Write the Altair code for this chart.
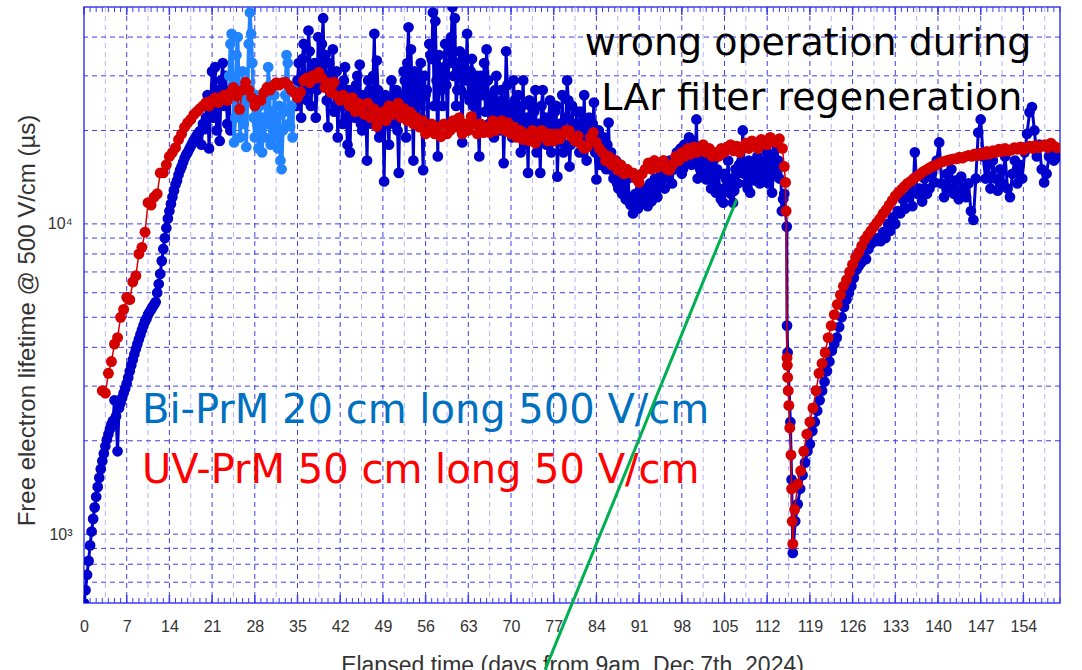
import altair as alt
import pandas as pd

# ---------------- axes / ticks ----------------
X_DOMAIN = [0, 160]
Y_DOMAIN = [600, 50000]
X_TICKS = [0, 7, 14, 21, 28, 35, 42, 49, 56, 63, 70, 77, 84, 91, 98, 105, 112,
           119, 126, 133, 140, 147, 154]
X_MINOR_GRID = [3.5, 10.5, 17.5, 24.5, 31.5, 38.5, 45.5, 52.5, 59.5, 66.5, 73.5,
                80.5, 87.5, 94.5, 101.5, 108.5, 115.5, 122.5, 129.5, 136.5, 143.5,
                150.5, 157.5]
Y_TICKS = [1000, 10000]
Y_TICK_LABELS = ["10³", "10⁴"]
Y_GRID = [700, 800, 900, 1000, 2000, 3000, 4000, 5000, 6000, 7000, 8000, 9000,
          10000, 20000, 30000, 40000]
EDGE_TICKS = list(range(0, 161))

# ---------------- data (lifetime in thousands of µs) ----------------
# Bi-PrM, dark blue, rising part: start day 0, every 0.25 day
BLUE_RISE_START, BLUE_RISE_STEP = 0.0, 0.25
BLUE_RISE_K = [0.60, 0.66, 0.74, 0.82, 0.92, 1.02, 1.12, 1.22, 1.32, 1.42, 1.52, 1.62,
               1.72, 1.82, 1.92, 2.02, 2.10, 2.18, 2.26, 2.32, 2.70, 2.40, 1.85, 2.55,
               2.65, 2.75, 2.85, 2.95, 3.06, 3.20, 3.35, 3.50, 3.65, 3.80, 3.95, 4.10,
               4.25, 4.40, 4.55, 4.70, 4.85, 4.95, 5.10, 5.20, 5.30, 5.40, 5.50, 5.60,
               6.00, 6.40, 6.90, 7.60, 8.30, 9.00, 9.70, 10.4, 11.0, 11.6, 12.2, 12.8,
               13.4, 13.8, 14.4, 14.9, 15.3, 15.8, 16.3, 16.7, 17.0, 17.4, 17.8, 18.2,
               18.6, 18.9, 19.3, 19.6, 19.9, 18.0, 21.0, 20.2, 22.0, 26.0, 17.5, 24.0,
               31.0, 22.0, 32.0, 20.0, 27.0, 18.5, 29.0, 33.0, 24.0, 30.0, 21.0, 27.0,
               20.0]
# Bi-PrM, light blue period: start day 23.8, every 0.2 day
LIGHT_START, LIGHT_STEP = 23.8, 0.2
LIGHT_K = [30, 38, 41, 28, 18.3, 22, 35, 40, 26, 19, 24, 31, 21, 27, 17.7, 25, 38, 48,
           41, 33, 22, 19, 26, 21, 17.5, 24, 20, 17, 22, 19, 25, 21, 32, 28, 18, 23, 20,
           26, 19, 22, 17.5, 24, 16, 15, 20, 23, 26, 35, 33, 21, 20.6, 24, 19, 27]
# Bi-PrM, dark blue, main period (outer scatter): start day 34.8, every 0.4 day
BLUE_MID_START, BLUE_MID_STEP = 34.8, 0.4
BLUE_MID_K = [24, 33, 22, 38, 27, 42, 24, 31, 22, 40,
              28, 46, 35, 20.5, 29, 36.5, 24, 19, 28, 21,
              32, 18, 17, 26, 22, 30, 32.6, 20, 24, 16,
              27, 21, 41, 33.6, 19, 25, 13.7, 22, 18, 29,
              21, 27, 14.6, 23, 31, 19, 43, 36.5, 16, 28,
              22, 33, 14.9, 26, 20, 35, 48, 45, 16.5, 30,
              24, 38, 21, 33, 50, 46, 27, 36, 18.3, 31,
              41, 25, 34, 22, 30, 16.5, 27, 33, 36.5, 21,
              26, 19, 30, 23, 27, 15.7, 36, 24, 20, 29,
              22, 26, 17, 29, 21, 14.6, 24, 19, 27, 20,
              14.6, 27, 22, 18, 25, 19, 23, 14.2, 21, 26,
              18, 29, 15.3, 24, 19, 23, 17, 21, 26, 16,
              22, 18, 24.6, 13.9, 20, 16, 19, 15, 21.2, 17,
              14, 16, 13, 15, 13.2, 12, 14, 11.5, 10.8, 12.5,
              11.2, 13, 11.8, 12.5, 11.4, 13.5, 12, 14, 12.2, 13.5,
              15, 13, 14.2, 16, 13.5, 15, 17, 16.5, 14.5, 18,
              16, 19, 15.5, 18, 21.7, 17.7, 15, 16.5, 13.9, 15.5,
              13, 16, 12.6, 14.5, 12, 11.7, 14, 16, 12.5, 11.7,
              15, 13.5, 17, 20, 15, 13, 12.6, 15.5, 14, 16.5,
              13.5, 15, 13.9, 17, 14, 12.6, 15.7, 17.5, 14, 11]
# Bi-PrM, dark blue, main period (core of the cloud): start day 35.0, every 0.4 day
BLUE_CORE_START, BLUE_CORE_STEP = 35.0, 0.4
BLUE_CORE_K = [29, 26, 34, 30, 25, 36, 28, 33, 27, 31,
               38, 30, 25, 33, 27, 23, 31, 26, 24, 29,
               22, 27, 25, 23, 28, 24, 21, 26, 23, 29,
               25, 30, 22, 27, 20, 24, 26, 21, 25, 23,
               27, 20, 26, 24, 29, 33, 22, 25, 31, 24,
               29, 21, 30, 27, 38, 34, 24, 29, 35, 27,
               32, 28, 36, 40, 30, 24, 33, 27, 35, 29,
               26, 31, 24, 28, 21, 30, 26, 23, 29, 24,
               22, 27, 24, 20, 25, 22, 28, 23, 19, 25,
               23, 20, 24, 18, 22, 25, 19, 23, 17, 21,
               24, 20, 18, 22, 17, 21, 24, 19, 20, 17,
               22, 25, 18, 20, 21, 19, 23, 17, 18, 20,
               19, 21, 17, 18, 15.5, 17.5, 16, 18, 15, 15.5,
               14.5, 13.5, 14, 12.5, 13, 12, 11.8, 12.2, 11.5, 12,
               12.3, 11.9, 13, 12.6, 12.2, 11.8, 13, 12.8, 13.5, 14.5,
               14, 15, 14.5, 15.5, 15, 16, 15.5, 17.5, 15, 16.5,
               17, 16, 18.5, 16, 14, 15, 14.5, 16, 14, 15,
               14, 13.5, 15, 13, 12.5, 14.5, 13.8, 13, 14, 12.8,
               14.5, 15.5, 16, 14.5, 13.5, 16, 15, 13.8, 14.5, 15.5,
               14.5, 16, 15, 13.5, 16.5, 14.5, 15, 16, 15.5, 12]
# Bi-PrM drop
BLUE_DROP_DAYS = [114.8, 115.0, 115.2, 115.25, 115.35, 115.8, 116.0, 116.2]
BLUE_DROP_K = [12.5, 11.0, 9.8, 4.7, 3.85, 2.3, 1.5, 0.87]
# Bi-PrM recovery: start day 116.6, every 0.4 day
BLUE_REC_START, BLUE_REC_STEP = 116.6, 0.4
BLUE_REC_K = [1.1, 1.25, 1.4, 1.55, 1.7, 1.85, 1.95, 2.15, 2.3, 2.5, 2.7, 2.9, 3.1,
              3.35, 3.6, 3.9, 4.1, 4.3, 4.65, 5.0, 5.4, 5.7, 6.0, 6.3, 6.7, 7.1, 7.3,
              7.5, 7.8, 7.7, 8.3, 8.6, 9.0, 8.8, 9.0, 8.8, 9.4, 9.0, 10.0, 9.5, 10.5,
              10.0, 11.0, 10.8, 12.0, 11.2, 12.2, 13.5, 11.4, 17.0, 12.5, 13.0, 11.8,
              14.0, 12.5, 13.0, 14.5, 13.6, 16.0, 18.3, 13.5, 12.2, 14.5, 13.0, 15.0,
              12.5, 13.8, 12.0, 14.2, 12.8, 12.2, 13.5, 11.0, 10.3, 14.0, 19.7, 21.7,
              16.5, 14.0, 15.5, 13.0, 16.0, 14.0, 12.8, 15.0, 13.5, 16.5, 13.0, 12.2,
              14.5, 16.0, 13.5, 15.5, 14.0, 17.0, 19.5, 22.9, 23.8, 20.0, 16.5, 18.0,
              15.0, 13.6, 14.5, 16.5, 18.0, 16.0, 17.5, 16.5]

# UV-PrM (red): start day 3.0, every 0.5 day
RED_START, RED_STEP = 3.0, 0.5
RED_K = [2.9, 2.85, 3.3, 3.6, 4.1, 4.3, 5.0, 5.3, 5.8, 5.7,
         6.5, 6.8, 8.0, 8.4, 9.4, 11.7, 11.5, 12.2, 12.5, 14.6,
         14.6, 15.5, 16.5, 17.0, 17.6, 18.7, 19.5, 20.5, 21.2, 21.7,
         22.5, 23.0, 23.5, 24.0, 24.6, 24.0, 25.0, 25.5, 24.6, 25.5,
         26.0, 25.0, 26.5, 27.5, 25.8, 23.4, 27.0, 28.6, 27.0, 25.5,
         24.0, 25.0, 25.0, 26.5, 27.5, 27.0, 27.8, 28.5, 28.0, 28.5,
         28.6, 28.0, 27.0, 26.5, 25.5, 26.6, 29.0, 29.5, 28.5, 30.0,
         29.5, 30.8, 29.5, 27.5, 28.5, 26.5, 28.6, 25.8, 25.0, 26.0,
         25.0, 24.0, 25.5, 23.0, 24.5, 23.4, 22.5, 24.5, 22.0, 23.5,
         20.6, 22.0, 23.0, 21.5, 24.0, 22.5, 23.4, 24.5, 22.0, 23.5,
         21.5, 22.9, 21.0, 22.0, 20.5, 21.5, 19.5, 20.0, 21.0, 19.5,
         20.5, 19.1, 21.0, 19.5, 20.0, 21.5, 20.5, 22.0, 19.5, 21.0,
         20.0, 22.2, 21.0, 19.5, 21.0, 19.7, 20.5, 19.7, 21.5, 20.0,
         20.5, 21.5, 20.0, 21.2, 19.5, 20.5, 19.0, 20.0, 18.7, 19.5,
         18.5, 20.0, 18.2, 19.0, 20.0, 19.7, 18.5, 19.5, 18.5, 19.5,
         18.8, 19.5, 20.0, 20.0, 19.0, 18.5, 19.2, 18.0, 17.5, 17.7,
         19.0, 19.7, 18.3, 17.5, 17.0, 16.0, 16.5, 15.5, 16.0, 14.9,
         15.5, 14.5, 15.0, 14.6, 14.6, 14.0, 13.6, 14.5, 15.0, 15.7,
         15.0, 16.0, 15.2, 15.7, 16.0, 15.0, 14.9, 15.5, 16.5, 16.0,
         17.0, 16.5, 17.5, 16.8, 17.7, 17.0, 17.5, 18.0, 17.0, 17.5,
         16.5, 17.0, 16.5, 17.5, 17.0, 17.7, 18.0, 17.2, 17.8, 17.0,
         17.7, 18.2, 17.5, 18.5, 18.0, 17.5, 18.7, 18.5, 18.0, 19.0,
         18.5, 18.3, 18.8, 17.5]
RED_DROP_DAYS = [114.8, 115.0, 115.1, 115.25, 115.3, 115.35, 115.45, 115.55, 115.7,
                 115.9, 116.0, 116.1, 116.2]
RED_DROP_K = [15.3, 13.6, 11.0, 3.7, 3.5, 3.2, 2.9, 2.6, 2.2, 1.8, 1.4, 1.1, 0.93]
RED_REC_START, RED_REC_STEP = 116.5, 0.5
RED_REC_K = [1.2, 1.45, 1.6, 1.85, 2.1, 2.3, 2.55, 2.9, 3.3, 3.55,
             3.85, 4.3, 4.7, 5.1, 5.5, 5.9, 6.3, 6.6, 7.0, 7.4,
             7.8, 8.1, 8.5, 8.9, 9.2, 9.5, 9.8, 10.1, 10.4, 10.8,
             11.1, 11.5, 11.9, 12.3, 12.6, 12.9, 13.2, 13.5, 13.7, 14.0,
             14.2, 14.4, 14.7, 14.9, 15.1, 15.3, 15.4, 15.6, 15.8, 15.9,
             16.0, 16.1, 16.2, 16.2, 16.4, 16.3, 16.5, 16.6, 16.5, 16.8,
             16.6, 16.9, 16.7, 17.1, 16.8, 17.2, 17.0, 17.4, 17.1, 17.5,
             17.2, 17.3, 17.6, 17.4, 17.7, 17.3, 17.6, 17.8, 17.5, 17.9,
             17.6, 17.8, 18.0, 17.6, 18.2, 17.8, 17.6]

# ---------------- annotations ----------------
NOTE_TEXT = ["wrong operation during", "LAr filter regeneration"]
NOTE_DAY = [118.7, 119.3]
NOTE_TAU = [37900, 25200]
LEGEND_TEXT = ["Bi-PrM 20 cm long 500 V/cm", "UV-PrM 50 cm long 50 V/cm"]
LEGEND_COLOR = ["#0070C0", "#FF0000"]
LEGEND_DAY = [9.5, 9.5]
LEGEND_TAU = [2500, 1600]
POINTER_DAY = [75.6, 107.0]
POINTER_TAU = [366, 12000]

FONT = "Liberation Sans"
GRID = "#2a2ae6"
GRID_MINOR = "#b4b4f2"
FRAME = "#3c3cf2"


def regular(start, step, vals, seg):
    return pd.DataFrame({"day": [start + i * step for i in range(len(vals))],
                         "tau": [v * 1000 for v in vals], "seg": seg})


def explicit(days, vals, seg):
    return pd.DataFrame({"day": days, "tau": [v * 1000 for v in vals], "seg": seg})


blue_df = pd.concat([
    regular(BLUE_RISE_START, BLUE_RISE_STEP, BLUE_RISE_K, "a"),
    regular(BLUE_MID_START, BLUE_MID_STEP, BLUE_MID_K, "b"),
    regular(BLUE_CORE_START, BLUE_CORE_STEP, BLUE_CORE_K, "b"),
    explicit(BLUE_DROP_DAYS, BLUE_DROP_K, "b"),
    regular(BLUE_REC_START, BLUE_REC_STEP, BLUE_REC_K, "b"),
], ignore_index=True).sort_values("day", kind="stable").reset_index(drop=True)
light_df = regular(LIGHT_START, LIGHT_STEP, LIGHT_K, "c")
red_df = pd.concat([
    regular(RED_START, RED_STEP, RED_K, "r"),
    explicit(RED_DROP_DAYS, RED_DROP_K, "r"),
    regular(RED_REC_START, RED_REC_STEP, RED_REC_K, "r"),
], ignore_index=True)

label_expr = ("datum.value == {0} ? '{1}' : (datum.value == {2} ? '{3}' : '')"
              .format(Y_TICKS[0], Y_TICK_LABELS[0], Y_TICKS[1], Y_TICK_LABELS[1]))

xenc = alt.X("day:Q",
             scale=alt.Scale(domain=X_DOMAIN, nice=False, zero=False),
             axis=alt.Axis(values=X_TICKS, grid=False, ticks=False, domain=False,
                           labelFont=FONT, labelFontSize=16, labelColor="#333333",
                           labelPadding=15, labelFlush=False, labelOverlap=False,
                           title="Elapsed time (days from 9am, Dec 7th, 2024)",
                           titleFont=FONT, titleFontSize=23, titleFontWeight="normal",
                           titleColor="#333333", titleBaseline="top", titleY=51))
yenc = alt.Y("tau:Q",
             scale=alt.Scale(type="log", domain=Y_DOMAIN, nice=False),
             axis=alt.Axis(values=Y_TICKS, labelExpr=label_expr, grid=False,
                           ticks=False, domain=False, labelFont=FONT, labelFontSize=16,
                           labelColor="#333333", labelPadding=12,
                           title="Free electron lifetime @ 500 V/cm (µs)",
                           titleFont=FONT, titleFontSize=24, titleFontWeight="normal",
                           titleColor="#333333", titleX=-57, titleY=313,
                           titleBaseline="middle", titleAlign="center"))

minor_x = alt.Chart(pd.DataFrame({"day": X_MINOR_GRID})).mark_rule(
    stroke=GRID_MINOR, strokeDash=[5, 4], strokeWidth=1).encode(x=xenc)
major_x = alt.Chart(pd.DataFrame({"day": X_TICKS[1:]})).mark_rule(
    stroke=GRID, strokeDash=[5, 4], strokeWidth=1, opacity=0.9).encode(x=xenc)
grid_y = alt.Chart(pd.DataFrame({"tau": Y_GRID})).mark_rule(
    stroke=GRID, strokeDash=[5, 4], strokeWidth=1, opacity=0.9).encode(y=yenc)

edge_df = pd.DataFrame({"day": EDGE_TICKS})
tick_bot = alt.Chart(edge_df).mark_rule(stroke=FRAME, strokeWidth=1).encode(
    x=xenc, y=alt.value(596), y2=alt.value(591))
tick_top = alt.Chart(edge_df).mark_rule(stroke=FRAME, strokeWidth=1).encode(
    x=xenc, y=alt.value(0), y2=alt.value(5))
major_df = pd.DataFrame({"day": X_TICKS})
mtick_bot = alt.Chart(major_df).mark_rule(stroke=FRAME, strokeWidth=1.5).encode(
    x=xenc, y=alt.value(596), y2=alt.value(588))
mtick_top = alt.Chart(major_df).mark_rule(stroke=FRAME, strokeWidth=1.5).encode(
    x=xenc, y=alt.value(0), y2=alt.value(8))


def series_layers(df, color, size, width):
    line = alt.Chart(df).mark_line(color=color, strokeWidth=width, clip=True).encode(
        x=xenc, y=yenc, detail="seg:N", order="day:Q")
    pts = alt.Chart(df).mark_circle(color=color, size=size, opacity=1, clip=True).encode(
        x=xenc, y=yenc)
    return [line, pts]


blue_layers = series_layers(blue_df, "#0000cc", 115, 3)
light_layers = series_layers(light_df, "#2183ff", 115, 3.5)
red_layers = series_layers(red_df, "#d40000", 120, 1.5)

notes = alt.Chart(pd.DataFrame({"day": NOTE_DAY, "tau": NOTE_TAU, "t": NOTE_TEXT})).mark_text(
    font="DejaVu Sans", fontSize=38, color="black", align="center", baseline="middle"
).encode(x=xenc, y=yenc, text="t:N")

legend = alt.Chart(pd.DataFrame({"day": LEGEND_DAY, "tau": LEGEND_TAU, "t": LEGEND_TEXT,
                                 "c": LEGEND_COLOR})).mark_text(
    font="DejaVu Sans", fontSize=40, align="left", baseline="middle"
).encode(x=xenc, y=yenc, text="t:N", color=alt.Color("c:N", scale=None))

pointer = alt.Chart(pd.DataFrame({"day": POINTER_DAY, "tau": POINTER_TAU})).mark_line(
    color="#00b050", strokeWidth=3).encode(x=xenc, y=yenc)

chart = alt.layer(
    minor_x, major_x, grid_y, tick_bot, tick_top, mtick_bot, mtick_top,
    *blue_layers, *light_layers, *red_layers, notes, legend, pointer
).properties(
    width=976, height=596,
    autosize=alt.AutoSizeParams(type="none"),
    padding={"left": 84, "top": 7, "right": 22, "bottom": 67},
    background="white",
).configure_view(stroke=FRAME, strokeWidth=1.5)

chart.save("out.html", embed_options={"renderer": "svg", "actions": False})
